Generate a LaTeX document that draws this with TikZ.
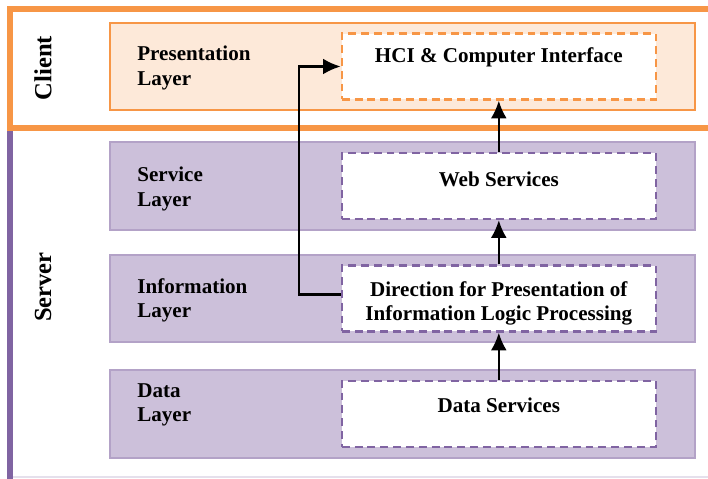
\documentclass[tikz,border=0pt]{standalone}
\usepackage{fontspec}
\setmainfont{Liberation Serif}
\usetikzlibrary{positioning, arrows.meta}

\definecolor{clientorange}{HTML}{F79646}
\definecolor{clientfill}{HTML}{FDE9D9}
\definecolor{serverpurple}{HTML}{8064A2}
\definecolor{serverfill}{HTML}{CCC0DA}
\definecolor{serverline}{HTML}{B3A2C7}
\definecolor{serverbase}{HTML}{E5E0EC}

\begin{document}
\begin{tikzpicture}[
        x=0.02cm, y=-0.02cm,   % one unit = one pixel, y runs down
        font=\fontsize{12}{13.7}\selectfont\bfseries,
        layer/.style={rectangle, draw=serverline, fill=serverfill, line width=1.2pt, minimum width=11.7cm, minimum height=1.75cm},
        clientlayer/.style={layer, draw=clientorange, fill=clientfill},
        service/.style={rectangle, draw=serverpurple, fill=white, line width=1.4pt, dash pattern=on 4.5pt off 2.8pt, minimum width=6.28cm, minimum height=1.32cm},
        clientservice/.style={service, draw=clientorange},
        layername/.style={anchor=west, align=left, inner sep=0pt},
        servicename/.style={align=center, inner sep=0pt},
        tiername/.style={rotate=90, font=\fontsize{14}{16}\selectfont\bfseries},
        flow/.style={draw, line width=1.2pt, -{Latex[length=10pt,width=9pt]}}
    ]
    \useasboundingbox (0,0) rectangle (708,479);

    % tiers
    \draw[serverbase, line width=1pt] (10,477) -- (708,477);
    \draw[serverpurple, line width=3.4pt] (10,130) -- (10,479);
    \draw[clientorange, line width=3.6pt] (708,9) -- (10,9) -- (10,128) -- (708,128);
    \node[tiername] (client) at (43,68) {Client};
    \node[tiername] (server) at (43,287) {Server};

    % layers
    \node[clientlayer] (pres) at (402.5,66.5) {};
    \node[layer] (serv) at (402.5,186) {};
    \node[layer] (info) at (402.5,298.5) {};
    \node[layer] (data) at (402.5,414) {};

    \node[layername] (presname) at (137,68) {Presentation\\Layer};
    \node[layername] (servname) at (137,189) {Service\\Layer};
    \node[layername] (infoname) at (137,300) {Information\\Layer};
    \node[layername] (dataname) at (137,405) {Data\\Layer};

    % services inside the layers
    \node[clientservice, left=0.78cm of pres.east] (hci) {};
    \node[service, left=0.78cm of serv.east] (web) {};
    \node[service, left=0.78cm of info.east] (dir) {};
    \node[service, left=0.78cm of data.east] (datasrv) {};

    \node[servicename] (hcitext) at ([yshift=0.18cm]hci.center) {HCI \& Computer Interface};
    \node[servicename] (webtext) at ([yshift=0.14cm]web.center) {Web Services};
    \node[servicename] (dirtext) at ([yshift=-0.1cm]dir.center) {Direction for Presentation of\\Information Logic Processing};
    \node[servicename] (datatext) at ([yshift=0.18cm]datasrv.center) {Data Services};

    % flow
    \draw[flow] (datasrv) -- (dir);
    \draw[flow] (dir) -- (web);
    \draw[flow] (web) -- (hci);
    \draw[flow] ([yshift=0.08cm]dir.west) -- ++(-42,0) |- (hci.west);
\end{tikzpicture}
\end{document}
